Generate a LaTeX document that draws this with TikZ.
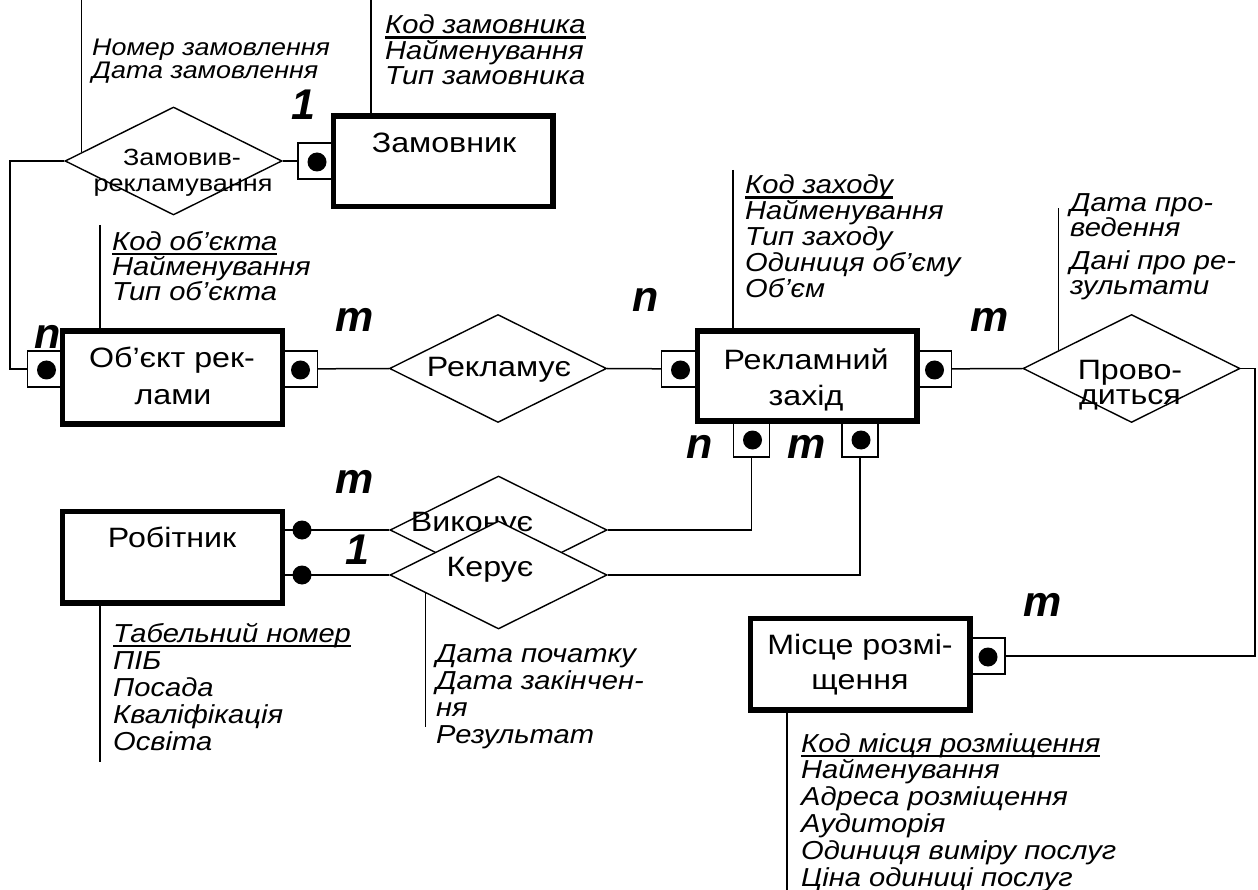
\documentclass[tikz,border=0pt]{standalone}
\usepackage{fontspec}
\usetikzlibrary{shapes.geometric,calc}
\newfontfamily\entfont[FakeStretch=1.15]{Liberation Sans}
\newfontfamily\attrfont[FakeStretch=1.12]{Liberation Sans}
\newfontfamily\cardfont{Liberation Sans}
% underlined key attribute with a heavy rule
\newcommand\keyattr[1]{\setbox0=\hbox{#1}\rlap{\rule[-5pt]{\wd0}{2.5pt}}\box0}

\tikzset{
  entity/.style={draw, line width=3.5pt, minimum width=218pt, minimum height=89pt, inner sep=0pt},
  rel/.style={draw, diamond, line width=1.4pt, minimum width=217pt, minimum height=108pt, inner sep=0pt},
  port/.style={draw, line width=1.2pt, minimum width=36pt, minimum height=36pt, inner sep=0pt, fill=white},
  dotmark/.style={circle, fill=black, minimum size=19pt, inner sep=0pt},
  link/.style={line width=1.5pt},
  etext/.style={font=\entfont\fontsize{28}{36}\selectfont, inner sep=0pt, anchor=base},
  rtext/.style={font=\entfont\fontsize{23.5}{26}\selectfont, inner sep=0pt, anchor=base},
  % the point given is the baseline of the last line
  atext/.style={font=\attrfont\itshape\fontsize{26}{#1}\selectfont, align=left, inner sep=0pt, anchor=base west},
  card/.style={font=\cardfont\bfseries\itshape\fontsize{43}{43}\selectfont, inner sep=0pt}
}

\begin{document}
\begin{tikzpicture}[x=1pt, y=-1pt]
\fill[white] (0,0) rectangle (1258,890);
\useasboundingbox (0,0) rectangle (1258,890);

% ---------- relationships (diamonds) ----------
\node[rel] (zdia) at (173.5,161) {};
\node[rel] (rekl) at (498,368.5) {};
\node[rel] (prov) at (1131.5,368.5) {};

% ---------- dots / ports positions ----------
\coordinate (zamP) at (316,161);
\coordinate (objLP) at (45.5,369);
\coordinate (objRP) at (299.5,369);
\coordinate (rzLP) at (679.5,369);
\coordinate (rzRP) at (933.5,369);
\coordinate (rzB1P) at (751.5,439);
\coordinate (rzB2P) at (860,439);
\coordinate (misP) at (987,656);

% ---------- entities (boxes) ----------
\node[entity, minimum height=89pt] (zam) at (443,161.5) {};
\node[entity, minimum height=91pt] (obj) at (172.5,377.5) {};
\node[entity, minimum height=88pt] (rz) at (807,376) {};
\node[entity, minimum height=90pt] (rob) at (172.5,557) {};
\node[entity, minimum height=90pt] (mis) at (860,664) {};

% ---------- connectors ----------
\coordinate (lbend) at (10,161);
\draw[link] (zdia.west) -- (lbend) |- (objLP -| obj.west);
\draw[link] (zdia.east) -- (zamP -| zam.west);
\draw[link] (objRP -| obj.east) -- (rekl.west);
\draw[link] (rekl.east) -- (rzLP -| rz.west);
\draw[link] (rzRP -| rz.east) -- (prov.west);
\coordinate (rbend) at (1255,368.5);
\draw[link] (prov.east) -- (rbend) |- (misP -| mis.east);

% ---------- worker relationships ----------
\coordinate (robD1) at (302,530);
\coordinate (robD2) at (302,575);
\node[rel] (vyk) at (498.5,530) {};
\node[etext] (tvyk) at (472,531) {Виконує};
\draw[link] (robD1 -| rob.east) -- (vyk.west);
\draw[link] (vyk.east) -| (rzB1P |- rz.south);
\node[rel, fill=white] (ker) at (498.5,575) {};
\node[etext] (tker) at (490,576) {Керує};
\draw[link] (robD2 -| rob.east) -- (ker.west);
\draw[link] (ker.east) -| (rzB2P |- rz.south);

% ---------- ports with dots ----------
\foreach \p in {zamP,objLP,objRP,rzLP,rzRP,rzB1P,rzB2P,misP}{
  \node[port] (sq-\p) at (\p) {};
}
\foreach \p in {zamP,objLP,objRP,rzLP,rzRP,rzB1P,rzB2P,misP}{
  \node[dotmark] (d-\p) at ($(\p)+(1,1)$) {};
}
\node[dotmark] (dr1) at (robD1) {};
\node[dotmark] (dr2) at (robD2) {};

% redraw entity borders above ports
\foreach \e in {zam,obj,rz,rob,mis}{
  \draw[line width=3.5pt] (\e.north west) rectangle (\e.south east);
}

% ---------- attribute leader lines ----------
\path ($(zdia.west)!0.157!(zdia.north)$) coordinate (zl);
\draw[link] (zl) -- (zl |- 0,0);
\coordinate (zaT) at (371,0);
\draw[link] (zaT) -- (zaT |- zam.north);
\coordinate (oaT) at (100,225);
\draw[link] (oaT) -- (oaT |- obj.north);
\coordinate (raT) at (733,170);
\draw[link] (raT) -- (raT |- rz.north);
\path ($(prov.west)!0.332!(prov.north)$) coordinate (pl);
\draw[link] (pl) -- (pl |- 0,208);
\coordinate (robB) at (100,762);
\draw[link] (robB |- rob.south) -- (robB);
\path ($(ker.west)!0.332!(ker.south)$) coordinate (kl);
\draw[link] (kl) -- (kl |- 0,727);
\coordinate (misB) at (787,890);
\draw[link] (misB |- mis.south) -- (misB);

% ---------- entity / relationship labels ----------
\node[etext] (tzam) at (444,153) {Замовник};
\node[etext] (tobj1) at (172,367) {Об’єкт рек-};
\node[etext] (tobj2) at (173,404) {лами};
\node[etext] (trz1) at (806,370) {Рекламний};
\node[etext] (trz2) at (806,406) {захід};
\node[etext] (trob) at (172,547) {Робітник};
\node[etext] (tmis1) at (860,654) {Місце розмі-};
\node[etext] (tmis2) at (860,689) {щення};
\node[rtext] (tzd1) at (182,166) {Замовив-};
\node[rtext] (tzd2) at (183,192) {рекламування};
\node[etext] (trek) at (499,377) {Рекламує};
\node[etext] (tpr1) at (1130,380) {Прово-};
\node[etext] (tpr2) at (1130,404) {диться};

% ---------- attributes ----------
\node[atext=23, font=\attrfont\itshape\fontsize{24}{23}\selectfont] (aZd) at (92,79) {Номер замовлення\\Дата замовлення};
\node[atext=25.5] (aZ) at (385,85) {\keyattr{Код замовника}\\Найменування\\Тип замовника};
\node[atext=23.5] (aO) at (112,301) {\keyattr{Код об’єкта}\\Найменування\\Тип об’єкта};
\node[atext=26] (aR) at (745,298) {\keyattr{Код заходу}\\Найменування\\Тип заходу\\Одиниця об’єму\\Об’єм};
\node[atext=25] (aP) at (1070,295) {Дата про-\\ведення\\[8pt]Дані про ре-\\зультати};
\node[atext=27] (aRob) at (113,750) {\keyattr{Табельний номер}\\ПІБ\\Посада\\Кваліфікація\\Освіта};
\node[atext=27] (aK) at (436,743) {Дата початку\\Дата закінчен-\\ня\\Результат};
\node[atext=26.8] (aM) at (801,886) {\keyattr{Код місця розміщення}\\Найменування\\Адреса розміщення\\Аудиторія\\Одиниця виміру послуг\\Ціна одиниці послуг};

% ---------- cardinalities ----------
\node[card] (c1) at (303,105) {1};
\node[card] (c2) at (48,337) {n};
\node[card] (c3) at (355,320) {m};
\node[card] (c4) at (646,300) {n};
\node[card] (c5) at (990,320) {m};
\node[card] (c6) at (700,447) {n};
\node[card] (c7) at (807,447) {m};
\node[card] (c8) at (355,482) {m};
\node[card] (c9) at (357,550) {1};
\node[card] (c10) at (1043,605) {m};
\end{tikzpicture}
\end{document}
